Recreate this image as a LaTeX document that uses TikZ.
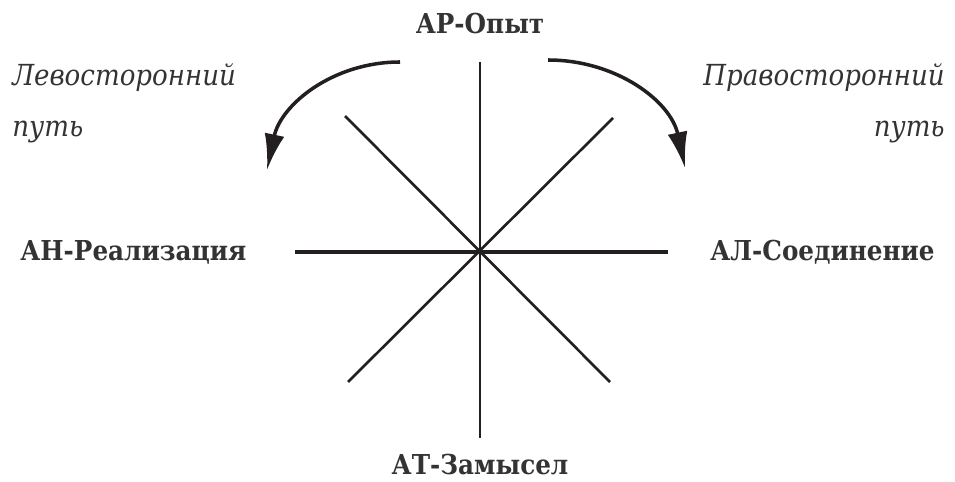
\documentclass[tikz,border=0pt]{standalone}
\usepackage{fontspec}
\setmainfont{DejaVu Serif Condensed}
\usetikzlibrary{arrows.meta}
\definecolor{inktext}{HTML}{333333}
\definecolor{inkline}{HTML}{231F20}
\tikzset{
  x=0.02cm, y=-0.02cm,
  axis/.style={draw=inkline, line width=1.5pt, line cap=butt},
  pole/.style={font=\fontsize{15.6}{18}\selectfont\bfseries, text=inktext, inner sep=0pt},
  pathlabel/.style={font=\fontsize{16.5}{18}\selectfont\itshape, text=inktext, inner sep=0pt},
  turnarrow/.style={draw=inkline, line width=2pt, -{Latex[length=0.72cm, width=0.4cm]}},
}
\begin{document}
\begin{tikzpicture}
    \useasboundingbox (0,0) rectangle (955,482);
    % axes through the centre
    \coordinate (c) at (480,252);
    \coordinate (n) at (480,62);
    \coordinate (s) at (480,438);
    \coordinate (w) at (295,252);
    \coordinate (e) at (668,252);
    \coordinate (nw) at (345,116);
    \coordinate (ne) at (613,118);
    \coordinate (sw) at (348,382);
    \coordinate (se) at (610,382);
    \draw[axis] (n) -- (s);
    \draw[axis, line width=1.8pt] (w) -- (e);
    \draw[axis] (nw) -- (se);
    \draw[axis] (ne) -- (sw);
    % labels
    \node[pole] (top) at (480,24) {АР-Опыт};
    \node[pole] (bottom) at (480,465) {АТ-Замысел};
    \node[pole, anchor=west] (left) at (20,252) {АН-Реализация};
    \node[pole, anchor=east] (right) at (935,252) {АЛ-Соединение};
    \node[pathlabel, anchor=base west] (lt1) at (12,86) {Левосторонний};
    \node[pathlabel, anchor=base west] (lt2) at (12,137) {путь};
    \node[pathlabel, anchor=base east] (rt1) at (945,86) {Правосторонний};
    \node[pathlabel, anchor=base east] (rt2) at (945,137) {путь};
    % turning arrows
    \coordinate (la) at (400,62);
    \coordinate (lb) at (267,170);
    \coordinate (ra) at (548,60);
    \coordinate (rb) at (685,168);
    \draw[turnarrow] (la) to[out=180, in=78] (lb);
    \draw[turnarrow] (ra) to[out=0, in=102] (rb);
\end{tikzpicture}
\end{document}
